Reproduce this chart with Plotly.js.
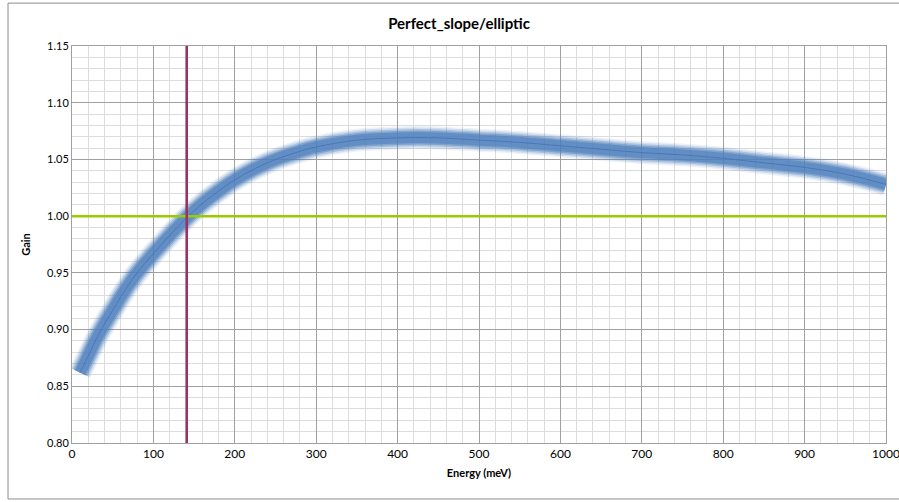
<!DOCTYPE html>
<html>
<head>
<meta charset="utf-8">
<script src="https://cdn.plot.ly/plotly-3.0.1.min.js"></script>
<style>html,body{margin:0;padding:0;background:#fff;}#chart{width:899px;height:502px;}</style>
</head>
<body>
<div id="chart"></div>
<script>
// Data
const energy = [10, 20, 30, 40, 50, 60, 70, 80, 100, 120, 140, 160, 180, 200, 225, 250, 275, 300, 350, 400, 450, 500, 550, 600, 650, 700, 750, 800, 850, 900, 950, 1000];
const gain   = [0.862, 0.877, 0.892, 0.905, 0.917, 0.929, 0.940, 0.950, 0.967, 0.983, 0.998, 1.011, 1.022, 1.032, 1.042, 1.050, 1.056, 1.061, 1.067, 1.069, 1.069, 1.067, 1.065, 1.062, 1.059, 1.056, 1.054, 1.051, 1.047, 1.043, 1.037, 1.028];
const unityGain = 1.00;
const crossEnergy = 141;
const xTicks = [0, 100, 200, 300, 400, 500, 600, 700, 800, 900, 1000];
const yTicks = [0.80, 0.85, 0.90, 0.95, 1.00, 1.05, 1.10, 1.15];

const font = "Lato, 'Open Sans', 'Noto Sans', sans-serif";
const blue = 'rgb(79,129,189)';

// soft glow band built from layered widths
const layers = [
  {w: 23, o: 0.10},
  {w: 20, o: 0.18},
  {w: 17, o: 0.30},
  {w: 14, o: 0.45},
  {w: 11, o: 0.60}
];
const traces = layers.map(l => ({
  x: energy, y: gain, type: 'scatter', mode: 'lines',
  line: {color: blue, width: l.w, shape: 'spline', smoothing: 1},
  opacity: l.o, hoverinfo: 'skip', showlegend: false
}));
traces.push({
  x: energy, y: gain, type: 'scatter', mode: 'lines',
  line: {color: 'rgb(60,110,185)', width: 1, shape: 'spline', smoothing: 1},
  opacity: 0.7, showlegend: false
});

const layout = {
  width: 899, height: 502,
  margin: {l: 72, r: 13, t: 46, b: 59},
  paper_bgcolor: '#fff', plot_bgcolor: '#fff',
  showlegend: false,
  title: {text: '<b>Perfect_slope/elliptic</b>', font: {family: font, size: 15, color: '#000'},
          x: 0.4755, xref: 'paper', xanchor: 'center', y: 0.952, yref: 'container', yanchor: 'middle'},
  xaxis: {
    range: [0, 1000], tickvals: xTicks, ticktext: xTicks.map(String),
    showgrid: true, gridcolor: '#a0a0a0', gridwidth: 1,
    minor: {dtick: 20, showgrid: true, gridcolor: '#dcdcdc', gridwidth: 1, ticks: ''},
    zeroline: false, showline: true, linecolor: '#a0a0a0', linewidth: 1, mirror: true,
    ticks: '', ticklen: 0, ticklabeloverflow: 'allow',
    tickfont: {family: font, size: 12, color: '#000'},
    title: {text: '<b>Energy (meV)</b>', font: {family: font, size: 11, color: '#000'}, standoff: 8},
    fixedrange: true
  },
  yaxis: {
    range: [0.80, 1.15], tickvals: yTicks, ticktext: yTicks.map(v => v.toFixed(2)),
    showgrid: true, gridcolor: '#a0a0a0', gridwidth: 1,
    minor: {dtick: 0.01, showgrid: true, gridcolor: '#dcdcdc', gridwidth: 1, ticks: ''},
    zeroline: false, showline: true, linecolor: '#a0a0a0', linewidth: 1, mirror: true,
    ticks: '', ticklen: 0, ticklabeloverflow: 'allow',
    tickfont: {family: font, size: 11, color: '#000'},
    title: {text: '<b>Gain</b>', font: {family: font, size: 11, color: '#000'}, standoff: 14},
    fixedrange: true
  },
  shapes: [
    {type: 'line', xref: 'x', yref: 'y', x0: 0, x1: 1000, y0: unityGain, y1: unityGain,
     line: {color: '#99cc00', width: 2.5}},
    {type: 'line', xref: 'x', yref: 'y', x0: crossEnergy, x1: crossEnergy, y0: 0.80, y1: 1.15,
     line: {color: '#9e2f63', width: 2.5}},
    {type: 'rect', xref: 'paper', yref: 'paper', x0: -0.0786, x1: 1.03, y0: -0.141, y1: 1.108,
     line: {color: '#8c8c8c', width: 1}, fillcolor: 'rgba(0,0,0,0)', layer: 'above'}
  ]
};

Plotly.newPlot('chart', traces, layout, {displayModeBar: false, staticPlot: true});
</script>
</body>
</html>
